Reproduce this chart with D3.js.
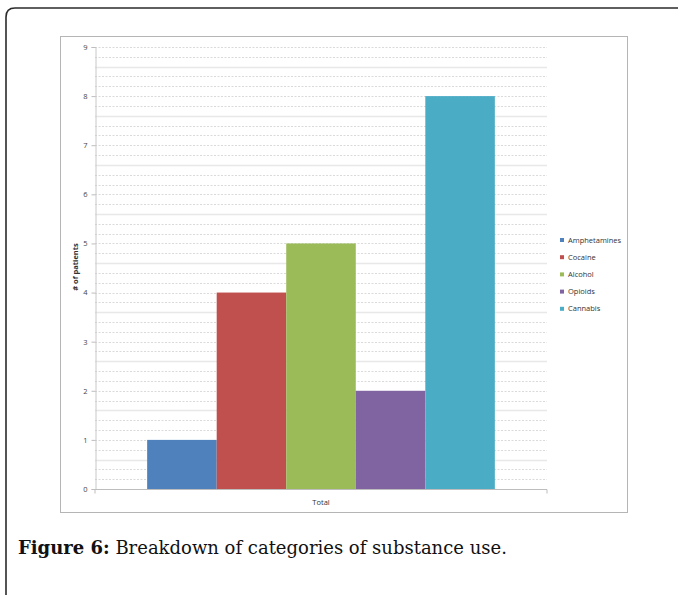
<!DOCTYPE html>
<html>
<head>
<meta charset="utf-8">
<script src="https://cdn.jsdelivr.net/npm/d3@7"></script>
<style>
  html, body { margin: 0; padding: 0; background: #fff; }
  svg { display: block; }
</style>
</head>
<body>
<svg id="chart" width="678" height="595"></svg>
<script>
const categories = ["Total"];
const series = ["Amphetamines", "Cocaine", "Alcohol", "Opioids", "Cannabis"];
const values = [1, 4, 5, 2, 8];
const colors = ["#4F81BD", "#C0504D", "#9BBB59", "#8064A2", "#4BACC6"];
const yTicks = [0, 1, 2, 3, 4, 5, 6, 7, 8, 9];
const yLabel = "# of patients";
const captionBold = "Figure 6:";
const captionText = " Breakdown of categories of substance use.";

const svg = d3.select("#chart");

// outer page frame
svg.append("path")
  .attr("d", "M6,595 L6,17 Q6,8 15,8 L678,8")
  .attr("fill", "none").attr("stroke", "#2b2b2b").attr("stroke-width", 1.6);

// chart frame
svg.append("rect")
  .attr("x", 60.5).attr("y", 36.5).attr("width", 567).attr("height", 476)
  .attr("fill", "#fff").attr("stroke", "#b5b5b5").attr("stroke-width", 1);

const plot = { left: 95, right: 547, top: 47, bottom: 489 };

const y = d3.scaleLinear().domain([0, 9]).range([plot.bottom, plot.top]);
const x0 = d3.scaleBand().domain(categories).range([plot.left, plot.right])
  .paddingInner(0).paddingOuter(0.15);
const x1 = d3.scaleBand().domain(series).range([0, x0.bandwidth()]).padding(0);

// gridlines (major + minor at 0.2)
const minor = d3.range(1, 46).map(i => i / 5);
const g = svg.append("g");
g.selectAll("line.grid").data(minor).join("line")
  .attr("class", "grid")
  .attr("x1", plot.left).attr("x2", plot.right)
  .attr("y1", d => Math.round(y(d)) + 0.5).attr("y2", d => Math.round(y(d)) + 0.5)
  .attr("stroke", (d, i) => ((i + 1) % 5 === 3) ? "#e8e8e8" : "#dadada")
  .attr("stroke-width", (d, i) => ((i + 1) % 5 === 3) ? 1.6 : 1)
  .attr("stroke-dasharray", (d, i) => ((i + 1) % 5 === 3) ? null : "2,1.5");

// bars
svg.append("g").selectAll("rect").data(series).join("rect")
  .attr("x", (d) => x0("Total") + x1(d))
  .attr("width", x1.bandwidth())
  .attr("y", (d, i) => y(values[i]))
  .attr("height", (d, i) => y(0) - y(values[i]))
  .attr("fill", (d, i) => colors[i]);

// y axis
const yAxis = d3.axisLeft(y).tickValues(yTicks).tickSize(4).tickPadding(4).tickFormat(d3.format("d"));
const ya = svg.append("g").attr("transform", `translate(${plot.left + 0.5},0)`).call(yAxis);
ya.select(".domain").attr("stroke", "#c8c8c8");
ya.selectAll(".tick line").attr("stroke", "#bdbdbd");
ya.selectAll(".tick text").attr("fill", "#444").attr("font-size", 7.5)
  .attr("font-family", "Open Sans, sans-serif");

// x axis
const xAxis = d3.axisBottom(x0).tickSize(0).tickPadding(10);
const xa = svg.append("g").attr("transform", `translate(0,${plot.bottom + 0.5})`).call(xAxis);
xa.select(".domain").attr("stroke", "#bdbdbd").attr("d", `M${plot.left},4V0H${plot.right}V4`);
xa.selectAll(".tick text").attr("fill", "#333").attr("font-size", 7.5)
  .attr("font-family", "Open Sans, sans-serif");

// y label
svg.append("text")
  .attr("transform", "translate(78,267) rotate(-90)")
  .attr("text-anchor", "middle")
  .attr("font-family", "Open Sans, sans-serif").attr("font-weight", "bold")
  .attr("font-size", 7.5).attr("fill", "#333")
  .text(yLabel);

// legend
const leg = svg.append("g").attr("transform", "translate(560,240)");
const rows = leg.selectAll("g").data(series).join("g")
  .attr("transform", (d, i) => `translate(0,${i * 17.2})`);
rows.append("rect").attr("x", 0).attr("y", -2).attr("width", 4).attr("height", 4)
  .attr("fill", (d, i) => colors[i]);
rows.append("text").attr("x", 8).attr("y", 0).attr("dy", "0.35em")
  .attr("font-family", "Open Sans, sans-serif").attr("font-size", 7.5).attr("fill", "#333")
  .text(d => d);

// caption
const cap = svg.append("text").attr("x", 18).attr("y", 554)
  .attr("font-family", "DejaVu Serif, serif").attr("font-size", 18).attr("fill", "#111");
cap.append("tspan").attr("font-weight", "bold").text(captionBold);
cap.append("tspan").text(captionText);
</script>
</body>
</html>
